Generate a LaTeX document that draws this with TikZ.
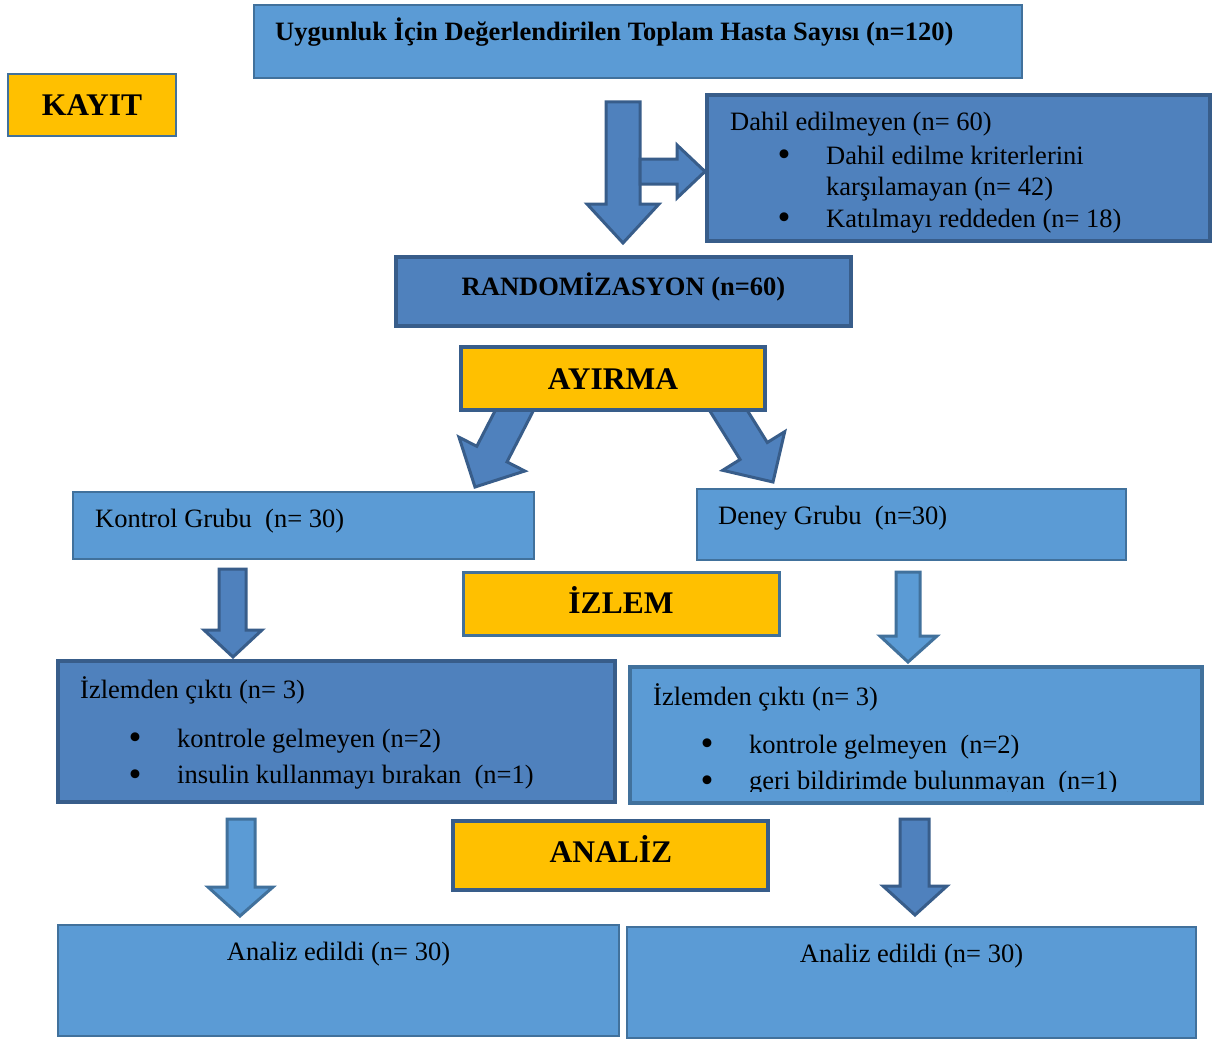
\documentclass[tikz,border=0pt]{standalone}
\usepackage{fontspec}
\setmainfont{Liberation Serif}
\usetikzlibrary{fit}
\definecolor{lblue}{HTML}{5B9BD5}
\definecolor{lbord}{HTML}{41719C}
\definecolor{dblue}{HTML}{4F81BD}
\definecolor{dbord}{HTML}{385D8A}
\definecolor{orng}{HTML}{FFC000}
\newcommand{\normfnt}{\fontsize{26.5}{31}\selectfont}
\newcommand{\bulfnt}{\fontsize{37}{37}\selectfont}
\newcommand{\stagefnt}{\fontsize{31.5}{36}\selectfont\bfseries}
\tikzset{
  lbox/.style={draw=lbord, fill=lblue, line width=2.2pt, inner sep=0pt},
  dbox/.style={draw=dbord, fill=dblue, line width=3.5pt, inner sep=0pt},
  obox/.style={draw=#1, fill=orng, line width=3pt, inner sep=0pt},
  txt/.style={anchor=base west, inner sep=0pt, font=\normfnt, text=black},
  ctxt/.style={anchor=base, inner sep=0pt, font=\normfnt, text=black},
  bul/.style={anchor=base, inner sep=0pt, font=\bulfnt, text=black, yshift=-2.5pt},
  stagetxt/.style={anchor=base, inner sep=0pt, font=\stagefnt, text=black},
  darr/.style={draw=dbord, fill=dblue, line width=3pt, line join=miter},
  larr/.style={draw=lbord, fill=lblue, line width=3pt, line join=miter}
}
\begin{document}
\begin{tikzpicture}[x=1pt,y=-1pt]
\fill[white] (0,0) rectangle (1227,1041);
\useasboundingbox (0,0) rectangle (1227,1041);

% ---------- block arrows (drawn first, boxes cover their tails)
\filldraw[darr] (606,102) -- (640,102) -- (640,204) -- (659,204) -- (623,243) -- (587,204) -- (606,204) -- cycle;
\filldraw[darr] (640,159) -- (677,159) -- (677,145) -- (705,171.5) -- (677,198) -- (677,184) -- (640,184) -- cycle;
% diagonal arrows from AYIRMA
\filldraw[darr] (535,407.5) -- (507.0,461.9) -- (524.8,471.0) -- (475,487) -- (459.0,437.2) -- (476.8,446.3) -- (504.8,391.9) -- cycle;
\filldraw[darr] (708.5,408.8) -- (740.1,459.5) -- (722.7,470.3) -- (773,482) -- (784.7,431.7) -- (767.3,442.5) -- (735.7,391.8) -- cycle;
% follow-up arrows
\filldraw[darr] (219,569) -- (246,569) -- (246,630) -- (262,630) -- (233,657) -- (204,630) -- (219,630) -- cycle;
\filldraw[larr] (896,572) -- (920,572) -- (920,636) -- (937,636) -- (908,662) -- (880,636) -- (896,636) -- cycle;
% analysis arrows
\filldraw[larr] (227,819) -- (255,819) -- (255,887) -- (273,887) -- (240,916) -- (208,887) -- (227,887) -- cycle;
\filldraw[darr] (900,819) -- (929,819) -- (929,886) -- (947,886) -- (915,915) -- (883,886) -- (900,886) -- cycle;

% ---------- boxes
\node[lbox, fit={(254,5) (1022,78)}] (elig) {};
\node[obox=lbord, line width=2pt, fit={(8,74) (176,136)}] (kayit) {};
\node[dbox, fit={(707,95) (1210,241)}] (excl) {};
\node[dbox, fit={(396,257) (851,326)}] (rand) {};
\node[obox=dbord, line width=3.5pt, fit={(461,347) (765,410)}] (ayirma) {};
\node[lbox, fit={(73,492) (534,559)}] (kontrol) {};
\node[lbox, fit={(697,489) (1126,560)}] (deney) {};
\node[obox=lbord, fit={(463,572) (779,635)}] (izlem) {};
\node[dbox, fit={(58,661) (615,802)}] (lost1) {};
\node[lbox, line width=3.5pt, fit={(630,667) (1202,803)}] (lost2) {};
\node[obox=dbord, line width=3.5pt, fit={(453,821) (768,890)}] (analiz) {};
\node[lbox, fit={(58,925) (619,1036)}] (an1) {};
\node[lbox, fit={(627,927) (1196,1038)}] (an2) {};

% ---------- texts
\node[txt, font=\normfnt\bfseries] (telig) at (275,40.5) {Uygunluk İçin Değerlendirilen Toplam Hasta Sayısı (n=120)};
\node[stagetxt] (tkayit) at (92,115) {KAYIT};

\node[txt] (texcl) at (730,131) {Dahil edilmeyen (n= 60)};
\node[bul] (bex1) at (784,164) {•};
\node[txt] (tex1) at (826,164) {Dahil edilme kriterlerini};
\node[txt] (tex1b) at (826,195.5) {karşılamayan (n= 42)};
\node[bul] (bex2) at (784,227) {•};
\node[txt] (tex2) at (826,227) {Katılmayı reddeden (n= 18)};

\node[ctxt, font=\normfnt\bfseries] (trand) at (623.5,295) {RANDOMİZASYON (n=60)};
\node[stagetxt] (tayirma) at (613,389) {AYIRMA};

\node[txt] (tkontrol) at (95,527) {Kontrol Grubu\ \ (n= 30)};
\node[txt] (tdeney) at (718,524) {Deney Grubu\ \ (n=30)};
\node[stagetxt] (tizlem) at (621,613.5) {İZLEM};

\node[txt] (tlost1) at (80,698) {İzlemden çıktı (n= 3)};
\node[bul] (bl1) at (135,747) {•};
\node[txt] (tl1) at (177,747) {kontrole gelmeyen (n=2)};
\node[bul] (bl2) at (135,783.5) {•};
\node[txt] (tl2) at (177,783.5) {insulin kullanmayı bırakan\ \ (n=1)};

\node[txt] (tlost2) at (653,705) {İzlemden çıktı (n= 3)};
\node[bul] (br1) at (707,753) {•};
\node[txt] (tr1) at (749,753) {kontrole gelmeyen\ \ (n=2)};
\begin{scope}
\clip (632,669) rectangle (1200,791.5);
\node[bul] (br2) at (707,789.5) {•};
\node[txt] (tr2) at (749,789.5) {geri bildirimde bulunmayan\ \ (n=1)};
\end{scope}

\node[stagetxt] (tanaliz) at (611,862) {ANALİZ};
\node[ctxt] (tan1) at (338.5,960) {Analiz edildi (n= 30)};
\node[ctxt] (tan2) at (911.5,962) {Analiz edildi (n= 30)};
\end{tikzpicture}
\end{document}
